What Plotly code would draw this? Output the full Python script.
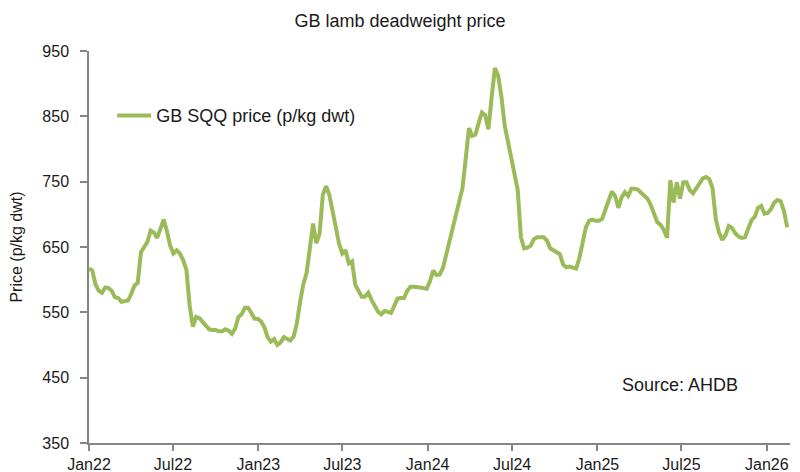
import pandas as pd
import plotly.graph_objects as go

# Weekly GB SQQ deadweight lamb price (p/kg dwt)
start_date = "2022-01-01"
n_weeks = 216
prices = [
    617, 614, 593, 583, 580, 588, 587, 583, 573, 572,
    566, 567, 568, 578, 591, 595, 642, 650, 658, 675,
    672, 664, 679, 692, 674, 652, 640, 645, 640, 630,
    615, 560, 528, 543, 541, 535, 530, 524, 523, 523,
    521, 521, 524, 522, 517, 525, 543, 547, 557, 557,
    549, 540, 540, 536, 527, 512, 505, 509, 500, 504,
    512, 509, 507, 513, 533, 566, 593, 610, 645, 686,
    656, 670, 730, 743, 730, 705, 677, 655, 640, 645,
    625, 628, 592, 583, 574, 574, 580, 569, 560, 551,
    547, 552, 551, 549, 560, 571, 572, 572, 583, 589,
    589, 589, 588, 587, 586, 598, 614, 607, 608, 618,
    638, 655, 676, 697, 716, 740, 785, 832, 820, 822,
    840, 856, 852, 830, 880, 924, 912, 880, 836, 810,
    790, 765, 738, 665, 648, 649, 652, 662, 665, 665,
    665, 660, 648, 645, 642, 639, 623, 619, 620, 619,
    617, 633, 656, 680, 690, 692, 690, 690, 693, 707,
    725, 735, 728, 710, 726, 734, 728, 739, 739, 738,
    733, 729, 724, 714, 700, 688, 684, 676, 664, 752,
    718, 749, 724, 749, 749, 737, 732, 740, 748, 755,
    757, 754, 740, 693, 672, 661, 668, 682, 679, 671,
    666, 664, 665, 678, 691, 696, 710, 713, 701, 702,
    708, 718, 722, 720, 705, 680,
]
dates = pd.date_range(start_date, periods=n_weeks, freq="7D")

series_name = "GB SQQ price (p/kg dwt)"
title_text = "GB lamb deadweight price"
y_title = "Price (p/kg dwt)"
source_text = "Source: AHDB"
y_ticks = [350, 450, 550, 650, 750, 850, 950]

FONT = "Arial, Liberation Sans, sans-serif"
TXT = "#1a1a1a"
AXIS = "#868686"
GREEN = "#9BBB59"

# The page body adds an 8px margin; size the figure so it fits the 800x472 window.
W, H, OFF = 792, 464, 8

fig = go.Figure()
fig.add_trace(go.Scatter(
    x=dates, y=prices, mode="lines", name=series_name,
    line=dict(color=GREEN, width=4, shape="linear"),
))

fig.update_layout(
    width=W, height=H,
    margin=dict(l=89 - OFF, r=10, t=51 - OFF, b=29),
    paper_bgcolor="white", plot_bgcolor="white",
    font=dict(family=FONT, size=16, color=TXT),
    title=dict(text=title_text, x=(400 - OFF) / W, xanchor="center",
               y=1 - (21 - OFF) / H, yanchor="middle", xref="container", yref="container",
               font=dict(family=FONT, size=18, color=TXT)),
    showlegend=True,
    legend=dict(x=0.033, y=0.835, xanchor="left", yanchor="middle",
                bgcolor="rgba(0,0,0,0)", font=dict(size=18), itemwidth=34),
    annotations=[dict(text=source_text, x=0.843, y=0.147, xref="paper", yref="paper",
                      xanchor="center", yanchor="middle",
                      showarrow=False, font=dict(family=FONT, size=18, color=TXT))],
)
fig.update_xaxes(
    type="date", range=["2022-01-01", "2026-02-20"],
    tick0="2022-01-01", dtick="M6", tickformat="%b%y",
    showline=True, linecolor=AXIS, linewidth=1.5,
    ticks="outside", ticklen=6, tickcolor=AXIS, tickwidth=1.5,
    showgrid=False, zeroline=False, automargin=False,
    tickfont=dict(size=16),
)
fig.update_yaxes(
    range=[350, 950], tickvals=y_ticks,
    showline=True, linecolor=AXIS, linewidth=1.5,
    ticks="outside", ticklen=7, tickcolor=AXIS, tickwidth=1.5,
    ticklabelstandoff=8,
    showgrid=False, zeroline=False, automargin=False,
    title=dict(text=y_title, font=dict(size=16), standoff=16),
    tickfont=dict(size=16),
)

fig.write_html("out.html")
